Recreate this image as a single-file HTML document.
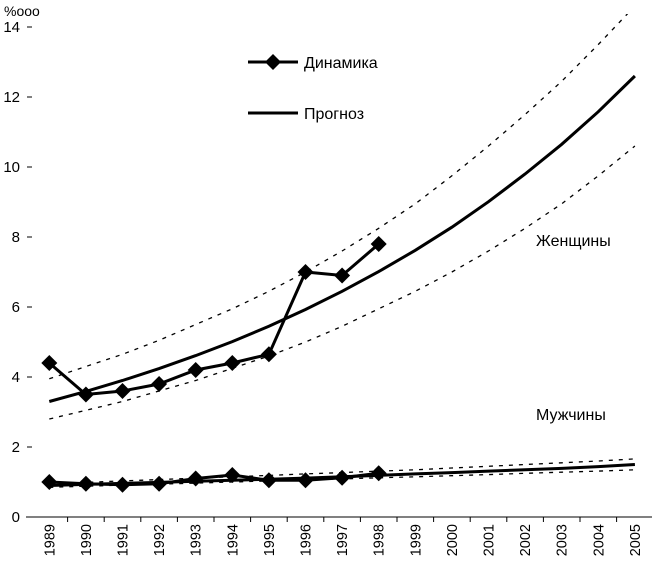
<!DOCTYPE html>
<html><head><meta charset="utf-8"><style>
body{margin:0;background:#fff}
svg{display:block;font-family:"Liberation Sans",sans-serif}
</style></head><body>
<svg id="c" width="652" height="567" viewBox="0 0 652 567">
<text x="4" y="16" font-size="14">%ooo</text>
<g id="axes"></g><g id="marks"></g>
<g>
<line x1="248" y1="62" x2="298" y2="62" stroke="#000" stroke-width="3"/>
<path d="M273 54 L281 62 L273 70 L265 62Z" fill="#000"/>
<text x="304" y="68" font-size="16">Динамика</text>
<line x1="248" y1="113" x2="298" y2="113" stroke="#000" stroke-width="3"/>
<text x="304" y="119" font-size="16">Прогноз</text>
</g>
<text x="536" y="246" font-size="16">Женщины</text>
<text x="536" y="420" font-size="16">Мужчины</text>
</svg>
<script>
const years=[1989,1990,1991,1992,1993,1994,1995,1996,1997,1998,1999,2000,2001,2002,2003,2004,2005];
const yTicks=[0,2,4,6,8,10,12,14];
const womenActual=[4.4,3.5,3.6,3.8,4.2,4.4,4.65,7.0,6.9,7.8];
const womenForecast=[3.3,3.59,3.9,4.24,4.61,5.01,5.45,5.93,6.45,7.01,7.62,8.28,9.01,9.8,10.65,11.58,12.6];
const womenUpper=[3.95,4.3,4.65,5.05,5.5,5.95,6.45,7.0,7.6,8.25,8.95,9.75,10.6,11.5,12.45,13.5,14.6];
const womenLower=[2.8,3.05,3.3,3.6,3.9,4.25,4.6,5.0,5.45,5.95,6.45,7.0,7.6,8.25,8.95,9.75,10.6];
const menActual=[1.0,0.95,0.92,0.95,1.1,1.2,1.05,1.05,1.12,1.25];
const menForecast=[0.9,0.93,0.96,0.99,1.02,1.05,1.08,1.11,1.15,1.19,1.23,1.27,1.31,1.35,1.39,1.44,1.5];
const menUpper=[0.95,0.99,1.03,1.07,1.11,1.15,1.19,1.23,1.27,1.31,1.35,1.40,1.45,1.50,1.55,1.60,1.66];
const menLower=[0.85,0.88,0.91,0.94,0.97,1.0,1.03,1.06,1.09,1.12,1.15,1.18,1.21,1.25,1.28,1.31,1.35];
const NS='http://www.w3.org/2000/svg';
const x0=31,bw=36.6,y0=517,py=35;
const X=i=>x0+bw*(i+0.5), Y=v=>y0-v*py;
function mk(t,a,p){const e=document.createElementNS(NS,t);for(const k in a)e.setAttribute(k,a[k]);p.appendChild(e);return e;}
const ax=document.getElementById('axes'),mg=document.getElementById('marks');
let l=mk('line',{x1:26,y1:y0,x2:652,y2:y0,stroke:'#000','stroke-width':1},ax);


yTicks.forEach(v=>{
 let t=mk('line',{x1:27,y1:Y(v),x2:32,y2:Y(v),stroke:'#000'},ax);
 
 
 let tx=mk('text',{x:20,y:Y(v)+5,'font-size':15,'text-anchor':'end'},ax);tx.textContent=v;
 
 
});
years.forEach((yr,i)=>{
 if(i>0){let t=mk('line',{x1:x0+bw*i,y1:y0,x2:x0+bw*i,y2:y0+5,stroke:'#000'},ax);
 
 }
 let tx=mk('text',{x:0,y:0,'font-size':14.5,'text-anchor':'end',transform:`translate(${X(i)+5},524) rotate(-90)`},ax);tx.textContent=yr;
 
 
});
function line(arr,w,dash,name){
 const d=arr.map((v,i)=>(i?'L':'M')+X(i).toFixed(1)+' '+Y(v).toFixed(1)).join(' ');
 let p=mk('path',{d,fill:'none',stroke:'#000','stroke-width':w},mg);
 if(dash)p.setAttribute('stroke-dasharray',dash);
 
 
}
function markers(arr,name){arr.forEach((v,i)=>{
 let p=mk('path',{d:`M${X(i)} ${Y(v)-8} l8 8 l-8 8 l-8 -8Z`,fill:'#000'},mg);
 
 
});}
const clip=mk('clipPath',{id:'cl'},mk('defs',{},document.getElementById('c')));
mk('rect',{x:0,y:14,width:652,height:560},clip);
mg.setAttribute('clip-path','url(#cl)');
line(womenUpper,1.3,'4 6','women-upper-bound');
line(womenLower,1.3,'4 6','women-lower-bound');
line(menUpper,1.3,'4 6','men-upper-bound');
line(menLower,1.3,'4 6','men-lower-bound');
line(womenForecast,3,null,'women-forecast-line');
line(menForecast,3,null,'men-forecast-line');
line(womenActual,3,null,'women-actual-line');
line(menActual,3,null,'men-actual-line');
markers(womenActual,'women-actual-point');
markers(menActual,'men-actual-point');
</script>
</body></html>
